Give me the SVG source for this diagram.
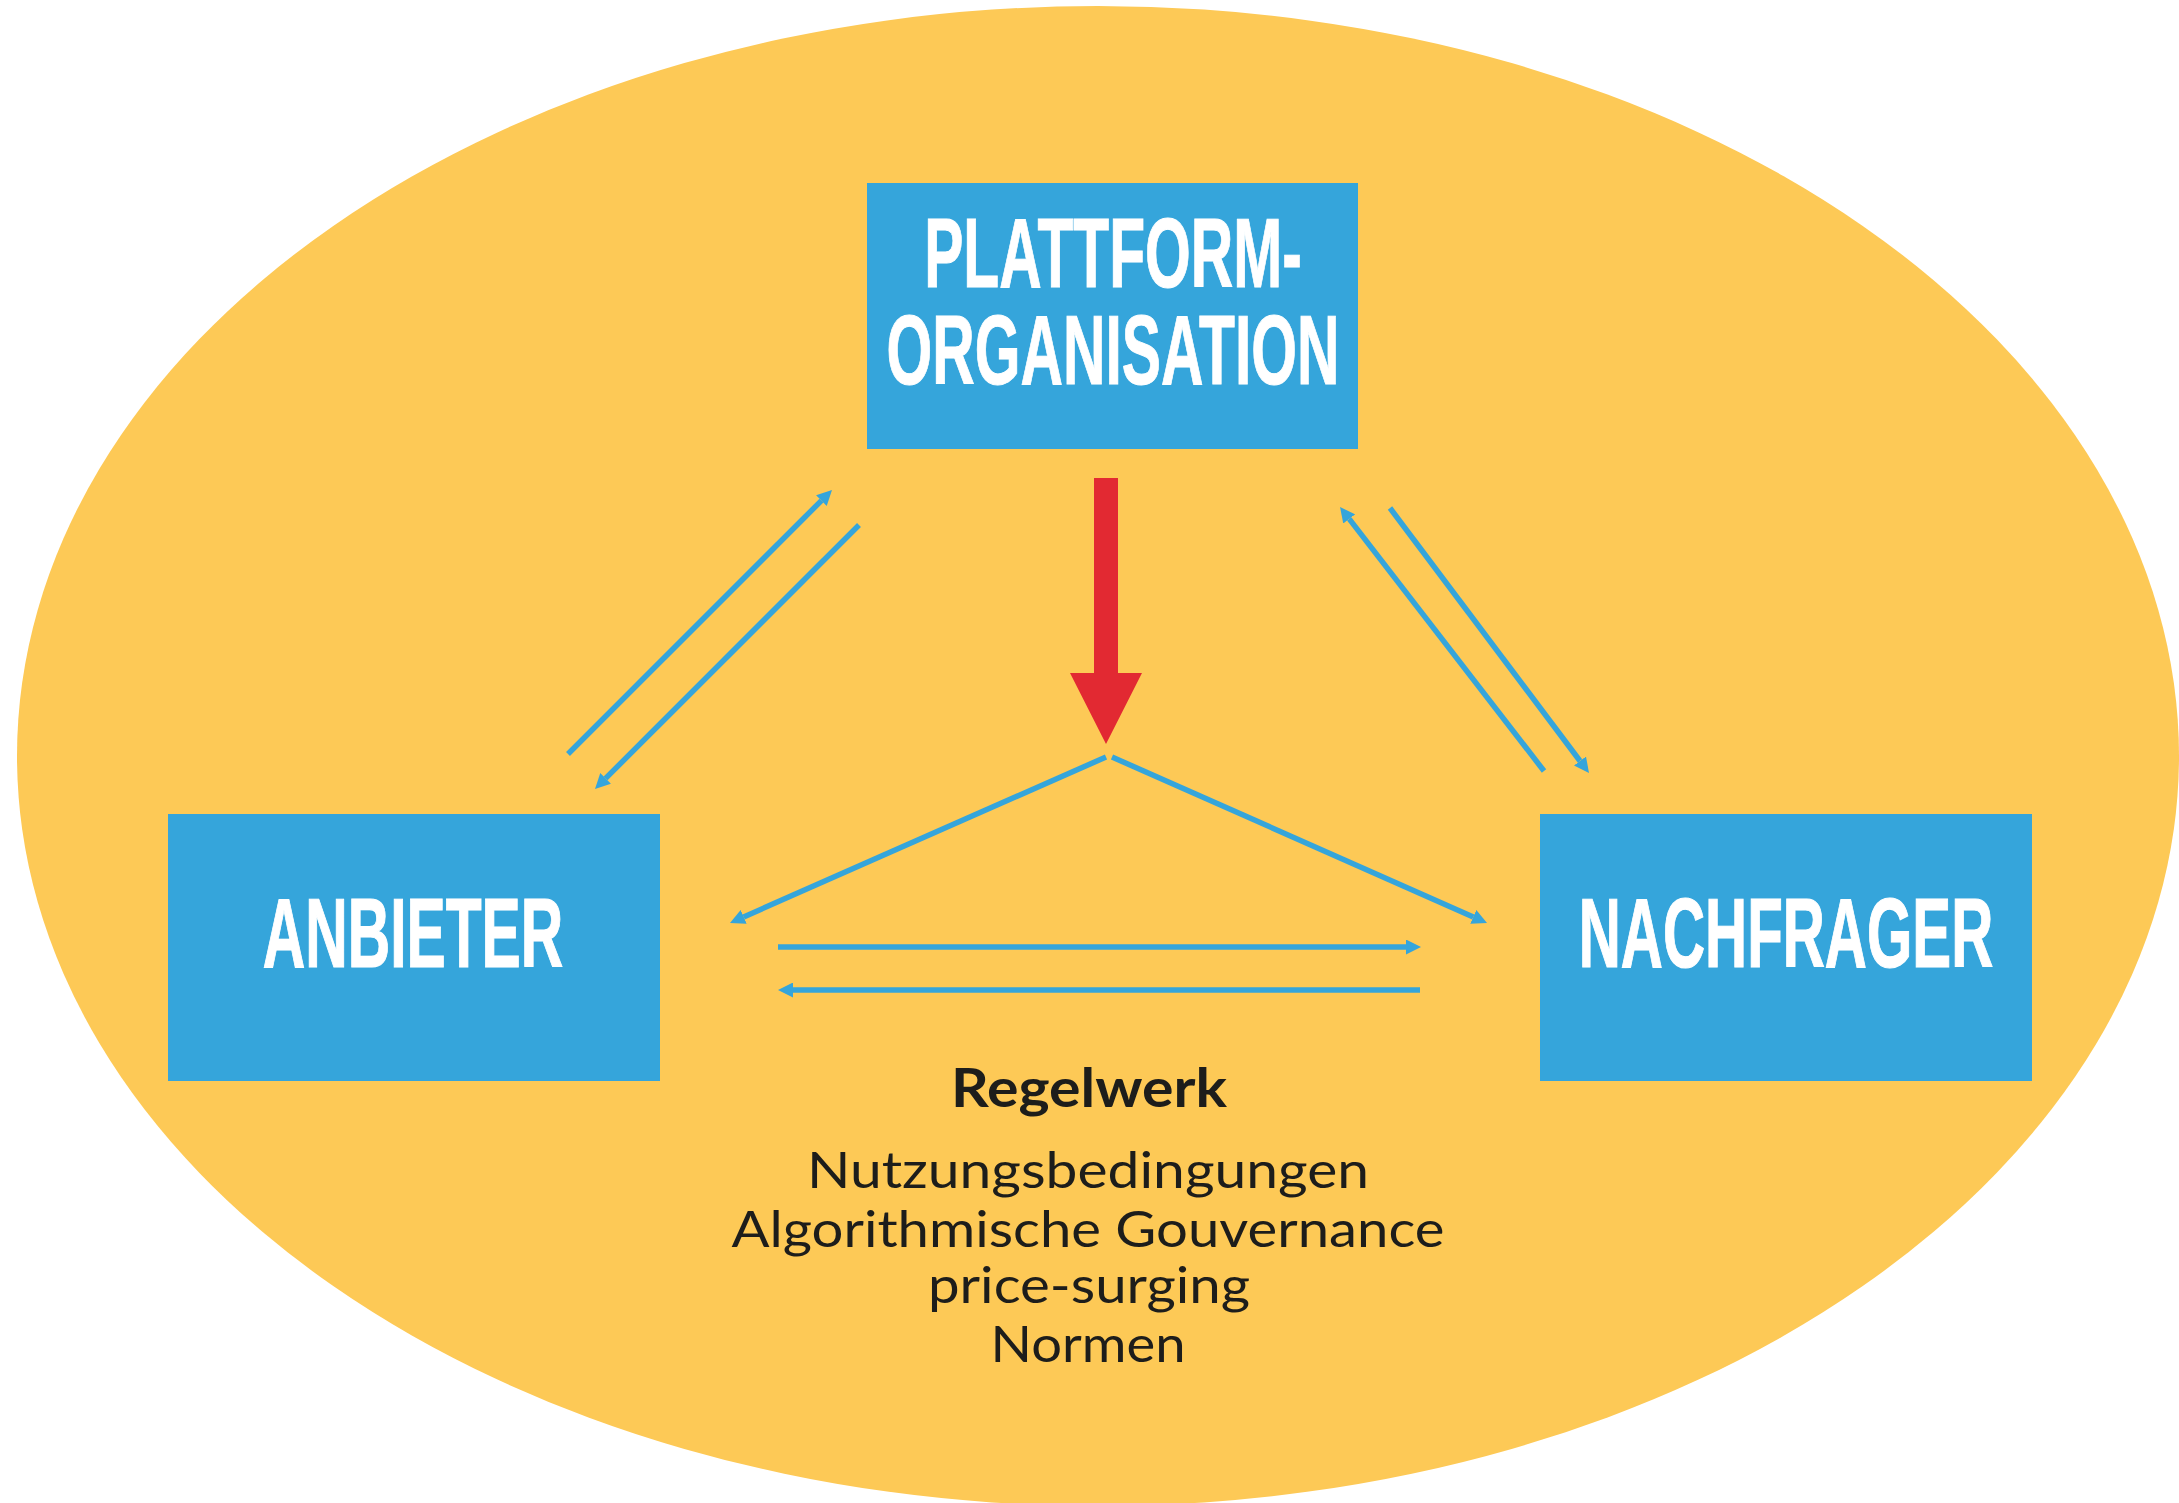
<svg xmlns="http://www.w3.org/2000/svg" width="2179" height="1503" viewBox="0 0 2179 1503">
<style>
.bg{fill:#FDC956}
.box{fill:#35A5DB}
.title{font-family:"Liberation Sans",Arial,sans-serif;font-weight:bold;font-size:98px;fill:#FFFFFF;stroke:#FFFFFF;stroke-width:1;vector-effect:non-scaling-stroke;text-anchor:middle}
.conn{stroke:#35A5DB;stroke-width:5.5;fill:none;marker-end:url(#ah)}
.rule{font-family:Lato,"Open Sans","Noto Sans",sans-serif;fill:#1D1D1B;text-anchor:middle}
.head{font-weight:bold;font-size:54px}
.item{font-size:51px}
</style>
<defs>
<marker id="ah" markerUnits="userSpaceOnUse" markerWidth="15" markerHeight="15" refX="0" refY="7.5" orient="auto" viewBox="0 0 15 15">
<path d="M0,0 L15,7.5 L0,15 z" fill="#35A5DB"/>
</marker>
</defs>
<rect x="0" y="0" width="2179" height="1503" fill="#FFFFFF"/>
<ellipse class="bg" cx="1098" cy="756" rx="1081" ry="750"/>
<g id="connectors">
<line class="conn" x1="568" y1="754" x2="821.4" y2="500.6"/>
<line class="conn" x1="859" y1="525" x2="605.6" y2="778.4"/>
<line class="conn" x1="1544" y1="771" x2="1349.2" y2="518.9"/>
<line class="conn" x1="1390" y1="508" x2="1580" y2="761"/>
<line class="conn" x1="1106" y1="757" x2="743.7" y2="916.9"/>
<line class="conn" x1="1112" y1="757" x2="1473.3" y2="916.9"/>
<line class="conn" x1="778" y1="947" x2="1406" y2="947"/>
<line class="conn" x1="1420" y1="990" x2="793" y2="990"/>
<polygon id="red-arrow" points="1094,478 1118,478 1118,673 1142,673 1106,744 1070,673 1094,673 1094,478" fill="#E22932"/>
</g>
<g id="node-plattform">
<rect class="box" x="867" y="183" width="491" height="266"/>
<text class="title" transform="translate(1113,0) scale(0.6,1)"><tspan x="0" y="287">PLATTFORM-</tspan><tspan x="0" y="384">ORGANISATION</tspan></text>
</g>
<g id="node-anbieter">
<rect class="box" x="168" y="814" width="492" height="267"/>
<text class="title" transform="translate(413,967) scale(0.6,1)" x="0" y="0">ANBIETER</text>
</g>
<g id="node-nachfrager">
<rect class="box" x="1540" y="814" width="492" height="267"/>
<text class="title" transform="translate(1786,967) scale(0.595,1)" x="0" y="0">NACHFRAGER</text>
</g>
<g id="regelwerk">
<text class="rule head" x="1089" y="1107" textLength="276" lengthAdjust="spacingAndGlyphs">Regelwerk</text>
<text class="rule item" x="1088" y="1188" textLength="562" lengthAdjust="spacingAndGlyphs">Nutzungsbedingungen</text>
<text class="rule item" x="1088" y="1247" textLength="713" lengthAdjust="spacingAndGlyphs">Algorithmische Gouvernance</text>
<text class="rule item" x="1089" y="1303" textLength="322" lengthAdjust="spacingAndGlyphs">price-surging</text>
<text class="rule item" x="1088" y="1362" textLength="195" lengthAdjust="spacingAndGlyphs">Normen</text>
</g>
</svg>
